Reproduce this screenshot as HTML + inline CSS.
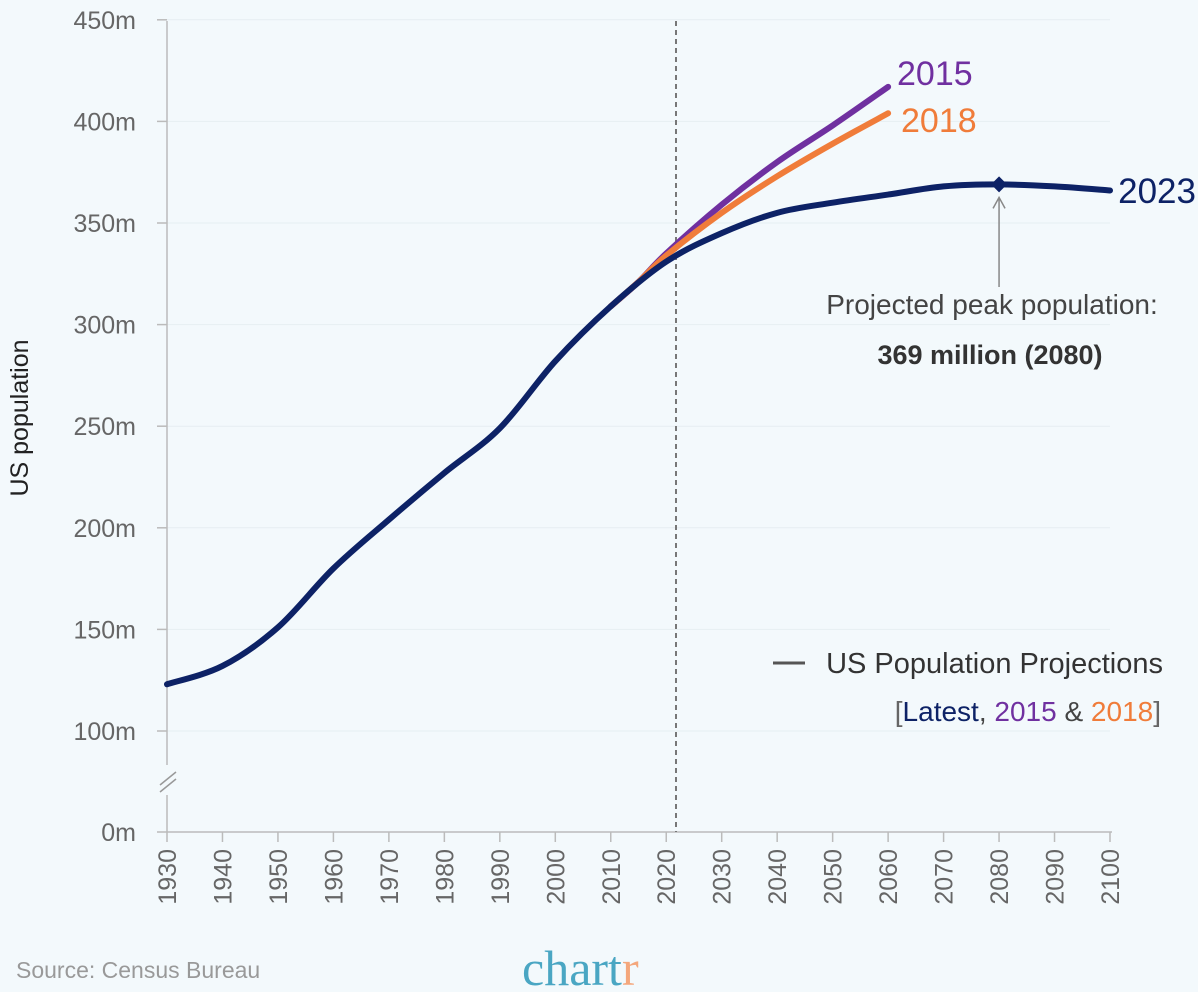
<!DOCTYPE html>
<html><head><meta charset="utf-8">
<style>
html,body{margin:0;padding:0;background:#f3f9fc;}
svg{display:block;font-family:"Liberation Sans",sans-serif;}
</style></head>
<body>
<svg id="chart" width="1198" height="992" viewBox="0 0 1198 992">
<rect width="1198" height="992" fill="#f3f9fc"/>
<g id="grid"></g>
<g id="axes"></g>
<g id="series"></g>
<g id="annot"></g>
</svg>
<script>
const years2023=[1930,1940,1950,1960,1970,1980,1990,2000,2010,2020,2030,2040,2050,2060,2070,2080,2090,2100];
const pop2023=[123,132,151,180,204,227,249,282,309,331,345,355,360,364,368,369,368,366];
const years2015=[2010,2015,2020,2030,2040,2050,2060];
const pop2015=[309,321,335,359,380,398,417];
const years2018=[2010,2015,2020,2030,2040,2050,2060];
const pop2018=[309,321,334,355,373,389,404];
const yTicks=[0,100,150,200,250,300,350,400,450];
const xTicks=[1930,1940,1950,1960,1970,1980,1990,2000,2010,2020,2030,2040,2050,2060,2070,2080,2090,2100];

const NS="http://www.w3.org/2000/svg";
function X(yr){return 167+(yr-1930)*(1110-167)/170;}
function Y(v){return v<100?832-(v/100)*101:731-(v-100)*2.032;}
function mk(tag,attrs,parent,text){const e=document.createElementNS(NS,tag);for(const k in attrs)e.setAttribute(k,attrs[k]);if(text!==undefined)e.textContent=text;document.getElementById(parent).appendChild(e);return e;}
function smooth(xs,vs){const p=xs.map((x,i)=>[X(x),Y(vs[i])]);let d=`M${p[0][0]},${p[0][1]}`;for(let i=0;i<p.length-1;i++){const p0=p[i-1]||p[i],p1=p[i],p2=p[i+1],p3=p[i+2]||p2;const c1=[p1[0]+(p2[0]-p0[0])/6,p1[1]+(p2[1]-p0[1])/6];const c2=[p2[0]-(p3[0]-p1[0])/6,p2[1]-(p3[1]-p1[1])/6];d+=` C${c1[0]},${c1[1]} ${c2[0]},${c2[1]} ${p2[0]},${p2[1]}`;}return d;}

yTicks.forEach(v=>{
 if(v>0){const g=mk('line',{x1:167,x2:1110,y1:Y(v),y2:Y(v),stroke:'#e6eef2','stroke-width':1},'grid');
 
 }
 const t=mk('text',{x:136,y:Y(v)+9,'text-anchor':'end','font-size':25,fill:'#666'},'axes',v+'m');
 
 
 const tk=mk('line',{x1:157,x2:167,y1:Y(v),y2:Y(v),stroke:'#bbb','stroke-width':1.5},'axes');
 
 
});
let a=mk('line',{x1:167,x2:167,y1:21,y2:765,stroke:'#bbb','stroke-width':1.5},'axes');

a=mk('line',{x1:167,x2:167,y1:795,y2:832,stroke:'#bbb','stroke-width':1.5},'axes');

a=mk('path',{d:'M160,785 L176,772 M160,792 L176,779',stroke:'#999','stroke-width':1.5,fill:'none'},'axes');

a=mk('line',{x1:167,x2:1112,y1:832,y2:832,stroke:'#bbb','stroke-width':1.5},'axes');

xTicks.forEach(yr=>{
 const tk=mk('line',{x1:X(yr),x2:X(yr),y1:832,y2:842,stroke:'#bbb','stroke-width':1.5},'axes');
 
 
 const t=mk('text',{x:0,y:0,'text-anchor':'end','font-size':25,fill:'#666',transform:`translate(${X(yr)+9},849) rotate(-90)`},'axes',yr);
 
 
});
a=mk('text',{x:0,y:0,'text-anchor':'middle','font-size':25,fill:'#222',transform:'translate(28,418) rotate(-90)'},'axes','US population');

a=mk('line',{x1:676,x2:676,y1:21,y2:832,stroke:'#777','stroke-width':2,'stroke-dasharray':'5,4'},'axes');


let s=mk('path',{d:smooth(years2015,pop2015),stroke:'#7030a0',fill:'none','stroke-width':6,'stroke-linecap':'round'},'series');

s=mk('path',{d:smooth(years2018,pop2018),stroke:'#f07c3a',fill:'none','stroke-width':6,'stroke-linecap':'round'},'series');

s=mk('path',{d:smooth(years2023,pop2023),stroke:'#0d2266',fill:'none','stroke-width':6,'stroke-linecap':'round'},'series');


const px=X(2080),py=Y(369);
s=mk('path',{d:`M${px},${py-8} L${px+8},${py} L${px},${py+8} L${px-8},${py} Z`,fill:'#0d2266'},'annot');

s=mk('path',{d:`M${px},287 L${px},${py+14} M${px-6},${py+24} L${px},${py+13} L${px+6},${py+24}`,stroke:'#888',fill:'none','stroke-width':1.5},'annot');


function lab(x,y,txt,size,fill,name,anchor,weight){const t=mk('text',{x:x,y:y,'font-size':size,fill:fill,'text-anchor':anchor||'start','font-weight':weight||'normal'},'annot',txt);return t;}
lab(897,85,'2015',34,'#7030a0','label-2015');
lab(901,132,'2018',34,'#f07c3a','label-2018');
lab(1196,203,'2023',35,'#0d2266','label-2023','end');
lab(992,314,'Projected peak population:',28,'#444','peak-annotation-line1','middle');
lab(990,364,'369 million (2080)',27,'#333','peak-annotation-line2','middle','bold');
a=mk('line',{x1:773,x2:805,y1:663,y2:663,stroke:'#555','stroke-width':3},'annot');

lab(1163,673,'US Population Projections',29,'#333','legend-title','end');
const l=mk('text',{x:1161,y:721,'font-size':28,fill:'#666','text-anchor':'end'},'annot');

[['[','#666'],['Latest','#0d2266'],[', ','#444'],['2015','#7030a0'],[' & ','#444'],['2018','#f07c3a'],[']','#666']].forEach(p=>{const ts=document.createElementNS(NS,'tspan');ts.setAttribute('fill',p[1]);ts.textContent=p[0];l.appendChild(ts);});
lab(16,978,'Source: Census Bureau',23,'#999','source-note');
const c=mk('text',{x:522,y:985,'font-size':50,fill:'#4aa6c3','font-family':'"Liberation Serif",serif'},'annot');

c.textContent='chart';const r=document.createElementNS(NS,'tspan');r.setAttribute('fill','#f4a77c');r.textContent='r';c.appendChild(r);
</script>
</body></html>
